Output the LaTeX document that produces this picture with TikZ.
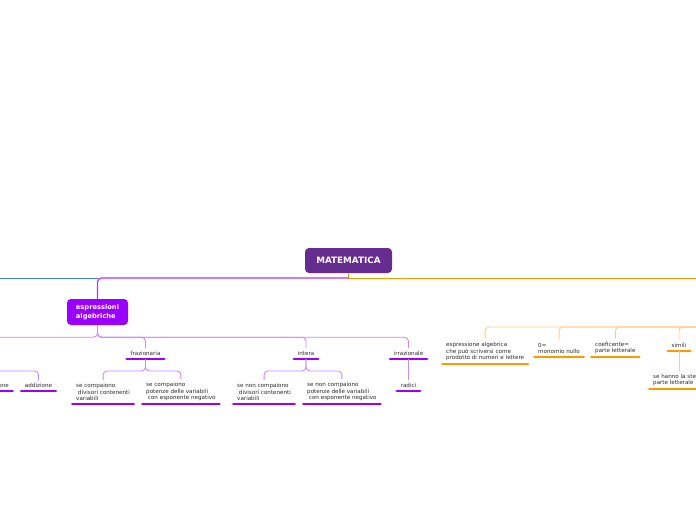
\documentclass[tikz,border=0pt]{standalone}
\usepackage{fontspec}
\setmainfont{DejaVu Sans}
\usetikzlibrary{positioning}
\definecolor{mathead}{HTML}{662D91}
\definecolor{espcol}{HTML}{9900FF}
\definecolor{lilac}{HTML}{CC88FF}
\definecolor{bluebus}{HTML}{3D7EFF}
\definecolor{orangebus}{HTML}{FF9900}
\definecolor{peach}{HTML}{FFCC88}
\definecolor{txtgray}{HTML}{2A2A2A}
\tikzset{
  mainbox/.style={fill=mathead, rounded corners=4pt, minimum width=87pt, minimum height=25pt,
    text=white, font=\bfseries\fontsize{8.8}{10}\selectfont},
  subbox/.style={fill=espcol, rounded corners=4pt, minimum width=61pt, minimum height=26pt,
    text=white, align=left, font=\bfseries\fontsize{6.7}{8.6}\selectfont}
}
\tikzset{
  leaf/.style={font=\fontsize{5.6}{6.6}\selectfont, text=txtgray, align=left,
    inner xsep=5pt, inner ysep=3pt}
}
\tikzset{
  pline/.style={espcol, line width=2.6pt, line cap=round, shorten <=1.3pt, shorten >=1.3pt},
  oline/.style={orangebus, line width=2.6pt, line cap=round, shorten <=1.3pt, shorten >=1.3pt},
  pbranch/.style={lilac, line width=0.9pt, rounded corners=4pt},
  obranch/.style={peach, line width=0.9pt, rounded corners=4pt}
}

\begin{document}
\begin{tikzpicture}[x=1pt, y=-1pt]
  \useasboundingbox (0,0) rectangle (696,520);
  \node[mainbox] (mat) at (348.5,260.5) {MATEMATICA};
  \node[subbox] (esp) at (97.5,312) {espressioni\\algebriche};
  \coordinate (edgeR) at (700,278);
  \coordinate (edgeL) at (-5,278);
  % off-page parents
  \coordinate (razio) at (-25,345);
  \coordinate (raziob) at (-25,359);
  \coordinate (mono) at (740,315);
  % left subtree
  \node[leaf, anchor=south] (fraz) at (145.5,359) {frazionaria};
  \node[leaf, anchor=south] (intera) at (306,359) {intera};
  \node[leaf, anchor=south] (irraz) at (408.5,359) {irrazionale};
  \node[leaf, anchor=south] (radici) at (408.5,391) {radici};
  \node[leaf, anchor=south] (add) at (38.5,391) {addizione};
  \node[leaf, anchor=south east] (sott) at (14,391) {sottrazione};
  \node[leaf, anchor=south west] (fdiv) at (71,404) {se compaiono\\\ divisori contenenti\\variabili};
  \node[leaf, anchor=south west] (fpot) at (141,404) {se compaiono\\potenze delle variabili\\\ con esponente negativo};
  \node[leaf, anchor=south west] (idiv) at (232,404) {se non compaiono\\\ divisori contenenti\\variabili};
  \node[leaf, anchor=south west] (ipot) at (302,404) {se non compaiono\\potenze delle variabili\\\ con esponente negativo};
  % right subtree
  \node[leaf, anchor=south west] (espr) at (441,364) {espressione algebrica\\che può scriversi come\\prodotto di numeri e lettere};
  \node[leaf, anchor=south west] (nullo) at (533,357) {0=\\monomio nullo};
  \node[leaf, anchor=south west] (coef) at (590,357) {coeficente=\\parte letterale};
  \node[leaf, anchor=south] (simili) at (679,351) {simili};
  \node[leaf, anchor=south west] (stessa) at (648,389) {se hanno la stessa\\parte letterale};
  % underlines
  \foreach \n in {fraz, intera, irraz, radici, add, sott, fdiv, fpot, idiv, ipot}
    \draw[pline] (\n.south west) -- (\n.south east);
  \foreach \n in {espr, nullo, coef, simili, stessa}
    \draw[oline] (\n.south west) -- (\n.south east);
  % top connectors
  \draw[orangebus, line width=0.9pt] (mat.south) |- (edgeR);
  \draw[espcol!80, line width=1.2pt, rounded corners=4pt] (mat.south |- edgeR) -| (esp.north);
  \draw[bluebus, line width=0.9pt] (esp.north |- edgeR) -- (edgeL);
  % branches
  \foreach \c in {razio, fraz, intera, irraz}
    \draw[pbranch] (esp.south) -- ++(0,12) -| (\c.north);
  \foreach \c in {sott, add}
    \draw[pbranch] (raziob) -- ++(0,12) -| (\c.north);
  \foreach \c in {fdiv, fpot}
    \draw[pbranch] (fraz.south) -- ++(0,12) -| (\c.north);
  \foreach \c in {idiv, ipot}
    \draw[pbranch] (intera.south) -- ++(0,12) -| (\c.north);
  \draw[pbranch] (irraz.south) -- (radici.north);
  \foreach \c in {espr, nullo, coef, simili}
    \draw[obranch] (mono) -- ++(0,12) -| (\c.north);
  \draw[obranch] (simili.south) -- (simili.south |- stessa.north);
\end{tikzpicture}
\end{document}
